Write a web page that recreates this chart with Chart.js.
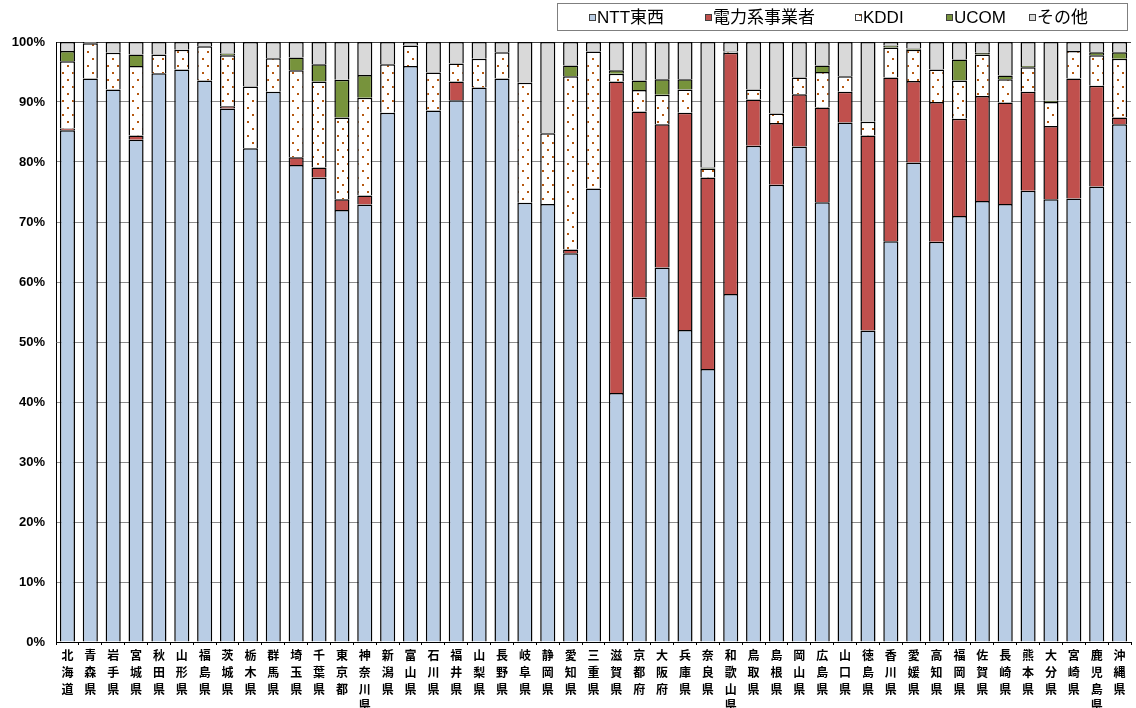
<!DOCTYPE html>
<html><head><meta charset="utf-8">
<script src="https://cdn.jsdelivr.net/npm/chart.js@4/dist/chart.umd.min.js"></script>
<style>html,body{margin:0;padding:0;background:#fff;}#wrap{width:1136px;height:708px;}</style>
</head><body><div id="wrap"><canvas id="c" width="1136" height="708"></canvas></div>
<script>
const categories = ['北海道','青森県','岩手県','宮城県','秋田県','山形県','福島県','茨城県','栃木県','群馬県','埼玉県','千葉県','東京都','神奈川県','新潟県','富山県','石川県','福井県','山梨県','長野県','岐阜県','静岡県','愛知県','三重県','滋賀県','京都府','大阪府','兵庫県','奈良県','和歌山県','鳥取県','島根県','岡山県','広島県','山口県','徳島県','香川県','愛媛県','高知県','福岡県','佐賀県','長崎県','熊本県','大分県','宮崎県','鹿児島県','沖縄県'];
const seriesNames = ['NTT東西','電力系事業者','KDDI','UCOM','その他'];
const ntt   = [85.3,93.9,92.1,83.7,94.8,95.4,93.6,88.9,82.3,91.7,79.5,77.4,72.0,72.9,88.2,96.0,88.6,90.3,92.4,93.9,73.2,73.0,64.8,75.6,41.5,57.4,62.4,52.0,45.5,58.0,82.7,76.2,82.6,73.3,86.6,51.9,66.8,79.9,66.7,71.0,73.5,73.0,75.2,73.8,73.9,75.9,86.3];
const power = [0.3,0,0,0.7,0,0,0,0.4,0,0,1.3,1.7,1.8,1.5,0,0,0,3.1,0,0,0,0,0.6,0,51.9,31.0,23.9,36.2,31.9,40.2,7.7,10.3,8.7,15.8,5.1,32.5,27.3,13.6,23.3,16.2,17.5,16.9,16.5,12.2,20.0,16.8,1.1];
const kddi  = [11.2,5.9,6.1,11.6,3.1,3.3,5.7,8.5,10.3,5.6,14.5,14.3,13.6,16.3,8.1,3.4,6.3,3.0,4.8,4.4,20.0,11.8,28.9,22.8,1.3,3.6,4.9,3.9,1.5,0.2,1.7,1.6,2.8,5.9,2.6,2.3,5.0,5.2,5.4,6.4,6.9,3.9,4.1,4.0,4.6,5.1,9.8];
const ucom  = [1.7,0,0,1.9,0,0,0,0.3,0,0,2.1,2.9,6.3,3.8,0,0,0,0,0,0,0,0,1.8,0,0.6,1.6,2.6,1.7,0.2,0,0,0,0,1.1,0,0,0.3,0.2,0,3.5,0.3,0.6,0.2,0.2,0,0.5,1.1];
const other = [1.5,0.2,1.8,2.1,2.1,1.3,0.7,1.9,7.4,2.7,2.6,3.7,6.3,5.5,3.7,0.6,5.1,3.6,2.8,1.7,6.8,15.2,3.9,1.6,4.7,6.4,6.2,6.2,20.9,1.6,7.9,11.9,5.9,3.9,5.7,13.3,0.6,1.1,4.6,2.9,1.8,5.6,4.0,9.8,1.5,1.7,1.7];
const yTicks = [0,10,20,30,40,50,60,70,80,90,100];

// dotted pattern for KDDI
function makePattern(){
  const t = document.createElement('canvas'); t.width = 10; t.height = 14;
  const g = t.getContext('2d');
  g.fillStyle = '#ffffff'; g.fillRect(0,0,10,14);
  g.fillStyle = '#B4570F';
  g.fillRect(2,2,2,2); g.fillRect(7,9,2,2);
  return document.getElementById('c').getContext('2d').createPattern(t,'repeat');
}
const kddiFill = makePattern();
const colors = ['#B9CDE5','#C0504D',kddiFill,'#77933C','#D9D9D9'];
const nz = a => a.map(v => v > 0 ? v : null);
const seriesData = [ntt,power,kddi,ucom,other];

const datasets = seriesNames.map((n,i)=>({
  label:n, data:nz(seriesData[i]), backgroundColor:colors[i],
  borderColor:'#000', borderWidth:1.5, barPercentage:0.66, categoryPercentage:1.0
}));

const legendPlugin = {
  id:'customLegend',
  afterDraw(chart){
    const ctx = chart.ctx;
    ctx.save();
    ctx.strokeStyle = '#7f7f7f'; ctx.lineWidth = 1;
    ctx.strokeRect(557.5,3.5,570,27);
    const xs = [589,705,855,946,1029];
    ctx.font = '17px "Liberation Sans","Noto Sans CJK JP",sans-serif';
    ctx.textBaseline = 'middle';
    chart.data.datasets.forEach((d,i)=>{
      const x = xs[i], y = 17;
      ctx.fillStyle = i === 2 ? '#ffffff' : d.backgroundColor;
      ctx.fillRect(x, y-3, 6, 6);
      if (i === 2) { ctx.fillStyle = '#B4570F'; ctx.fillRect(x+4, y-3, 2, 2); }
      ctx.strokeStyle = '#404040'; ctx.lineWidth = 1;
      ctx.strokeRect(x+0.5, y-3+0.5, 6, 6);
      ctx.fillStyle = '#000';
      ctx.fillText(d.label, x+8, y+1);
    });
    ctx.restore();
  }
};

new Chart(document.getElementById('c'), {
  type:'bar',
  data:{ labels: categories.map(c => c.split('')), datasets },
  options:{
    responsive:false, animation:false,
    layout:{ padding:{ top:42, right:5, left:0, bottom:0 } },
    plugins:{ legend:{display:false}, tooltip:{enabled:false} },
    scales:{
      x:{
        stacked:true,
        grid:{ drawOnChartArea:false, tickLength:3, color:'#000', offset:true },
        border:{ display:true, color:'#000', width:1 },
        ticks:{ autoSkip:false, maxRotation:0, minRotation:0, padding:2, color:'#000',
          font:{ family:'"Noto Sans CJK JP",sans-serif', weight:'bold', size:12, lineHeight:1.4 } },
        afterFit(s){ s.height = 66; }
      },
      y:{
        stacked:true, min:0, max:100,
        afterBuildTicks(s){ s.ticks = yTicks.map(v=>({value:v})); },
        grid:{ color:(c)=> c.tick && c.tick.value === 100 ? '#404040' : '#8c8c8c', lineWidth:1, tickLength:0 },
        border:{ display:true, color:'#000', width:1 },
        ticks:{ padding:11, color:'#000', callback:v => v + '%',
          font:{ family:'"Liberation Sans",Arial,sans-serif', weight:'bold', size:13 } },
        afterFit(s){ s.width = 56; }
      }
    }
  },
  plugins:[legendPlugin]
});
</script></body></html>
